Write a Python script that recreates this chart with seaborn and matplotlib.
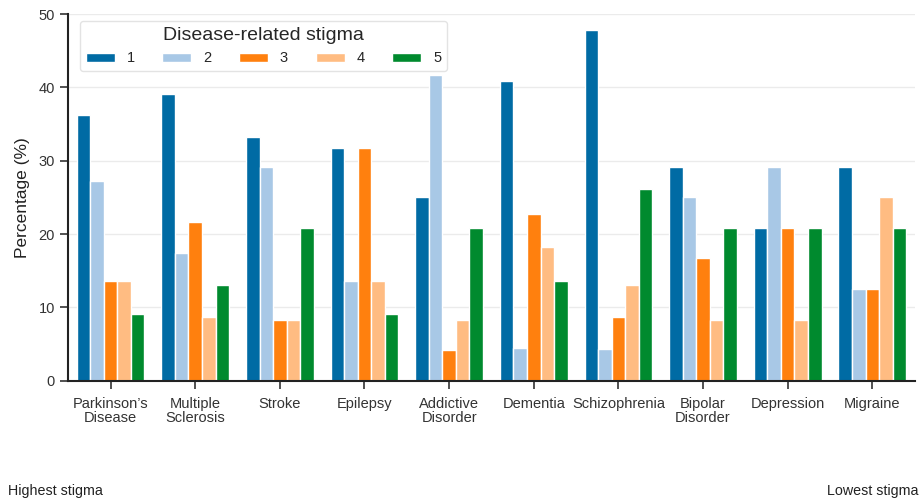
import pandas as pd
import matplotlib
matplotlib.use("Agg")
import matplotlib.pyplot as plt
import seaborn as sns

# 질환 목록 및 낙인 수준별 응답 비율 (%)
diseases = ["Parkinson’s\nDisease", "Multiple\nSclerosis", "Stroke", "Epilepsy",
            "Addictive\nDisorder", "Dementia", "Schizophrenia", "Bipolar\nDisorder",
            "Depression", "Migraine"]
levels = ["1", "2", "3", "4", "5"]

level1 = [36.3, 39.1, 33.3, 31.8, 25.0, 40.9, 47.8, 29.2, 20.8, 29.2]
level2 = [27.2, 17.4, 29.2, 13.6, 41.7, 4.5, 4.3, 25.0, 29.2, 12.5]
level3 = [13.6, 21.7, 8.3, 31.8, 4.2, 22.7, 8.7, 16.7, 20.8, 12.5]
level4 = [13.6, 8.7, 8.3, 13.6, 8.3, 18.2, 13.0, 8.3, 8.3, 25.0]
level5 = [9.1, 13.0, 20.8, 9.1, 20.8, 13.6, 26.1, 20.8, 20.8, 20.8]

colors = ["#006BA4", "#A8C8E6", "#FF800E", "#FFBC82", "#008A2E"]

rows = []
for lv, vals in zip(levels, [level1, level2, level3, level4, level5]):
    for d, v in zip(diseases, vals):
        rows.append({"disease": d, "stigma": lv, "pct": v})
df = pd.DataFrame(rows)

sns.set_theme(style="ticks")
plt.rcParams['font.family'] = ['Liberation Sans', 'DejaVu Sans']

fig = plt.figure(figsize=(9.22, 5.01), dpi=100)
ax = fig.add_axes([0.074, 0.24, 0.918, 0.732])

sns.barplot(data=df, x="disease", y="pct", hue="stigma", order=diseases,
            hue_order=levels, palette=colors, width=0.8, saturation=1,
            edgecolor="white", linewidth=1, ax=ax)

ax.set_ylim(0, 50)
ax.set_yticks(range(0, 51, 10))
ax.yaxis.grid(True, color="#ebebeb", linewidth=1)
ax.set_axisbelow(True)
ax.set_xlabel("")
ax.set_ylabel("Percentage (%)", fontsize=12.5, color="#222222", labelpad=6)
ax.tick_params(axis="both", labelsize=10.5, colors="#333333", length=6, width=1.2)
ax.tick_params(axis="x", pad=6)
for lab in ax.get_xticklabels():
    lab.set_linespacing(1.0)
for s in ["left", "bottom"]:
    ax.spines[s].set_linewidth(1.5)
    ax.spines[s].set_color("#222222")
sns.despine(ax=ax)

leg = ax.legend(title="Disease-related stigma", ncol=5, loc="upper left",
                bbox_to_anchor=(0.005, 1.0), fontsize=10.5, title_fontsize=14,
                handlelength=2.0, handleheight=0.6, columnspacing=1.9,
                handletextpad=0.8, frameon=True, edgecolor="#dddddd",
                fancybox=True)

fig.text(0.009, 0.012, "Highest stigma", fontsize=10.3,
         family=['Liberation Sans Narrow', 'Liberation Sans'], color="#222222")
fig.text(0.996, 0.012, "Lowest stigma", fontsize=10.3, ha="right",
         family=['Liberation Sans Narrow', 'Liberation Sans'], color="#222222")

fig.savefig("out.png", dpi=100)
